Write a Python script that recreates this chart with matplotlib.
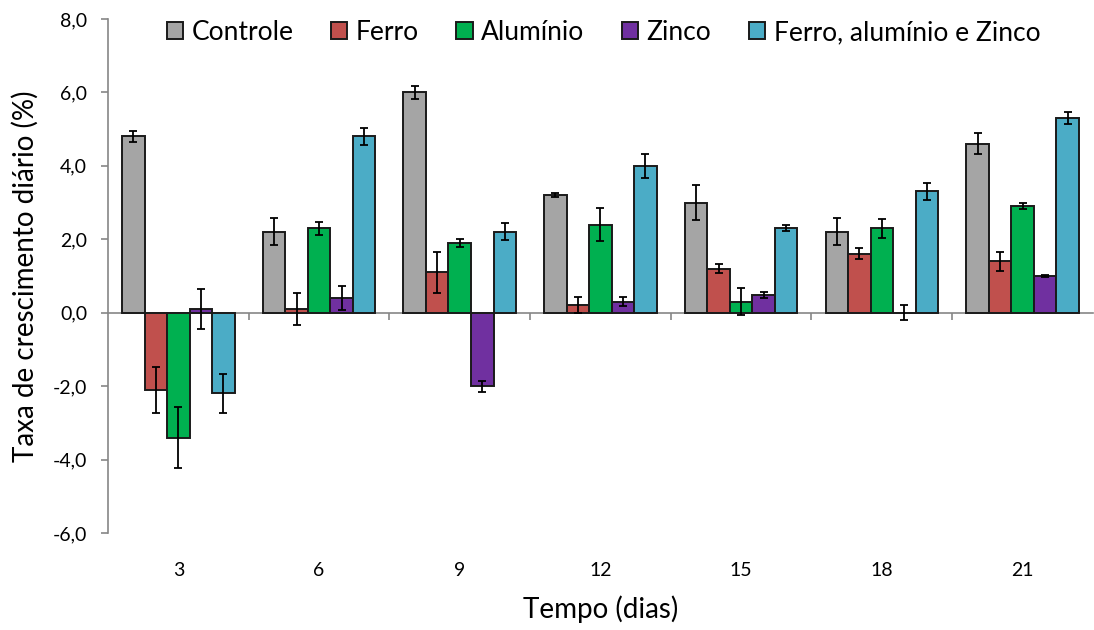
import numpy as np
import matplotlib
matplotlib.use("Agg")
import matplotlib.pyplot as plt
from matplotlib.ticker import FuncFormatter

plt.rcParams['font.family'] = ['Lato', 'DejaVu Sans']

days = ["3", "6", "9", "12", "15", "18", "21"]
series_names = ["Controle", "Ferro", "Alumínio", "Zinco", "Ferro, alumínio e Zinco"]

controle = [4.8, 2.2, 6.0, 3.2, 3.0, 2.2, 4.6]
ferro = [-2.1, 0.1, 1.1, 0.2, 1.2, 1.6, 1.4]
aluminio = [-3.4, 2.3, 1.9, 2.4, 0.3, 2.3, 2.9]
zinco = [0.1, 0.4, -2.0, 0.3, 0.48, 0.0, 1.0]
misto = [-2.2, 4.8, 2.2, 4.0, 2.3, 3.3, 5.3]

controle_err = [0.15, 0.37, 0.18, 0.06, 0.48, 0.37, 0.28]
ferro_err = [0.63, 0.43, 0.56, 0.22, 0.13, 0.15, 0.26]
aluminio_err = [0.82, 0.18, 0.10, 0.46, 0.36, 0.26, 0.09]
zinco_err = [0.54, 0.32, 0.15, 0.13, 0.09, 0.20, 0.02]
misto_err = [0.52, 0.24, 0.23, 0.32, 0.08, 0.22, 0.17]

colors = ["#A5A5A5", "#C0504D", "#00B050", "#7030A0", "#4BACC6"]
axis_gray = "#868686"


def main():
    fig = plt.figure(figsize=(10.94, 6.30), dpi=100)
    ax = fig.add_axes([0.0987, 0.154, 0.9003, 0.816])

    values = [controle, ferro, aluminio, zinco, misto]
    errors = [controle_err, ferro_err, aluminio_err, zinco_err, misto_err]
    x = np.arange(len(days))
    width = 0.16

    for i, (vals, errs) in enumerate(zip(values, errors)):
        pos = x + (i - 2) * width
        ax.bar(pos, vals, width, color=colors[i], edgecolor="#1a1a1a",
               linewidth=1.4, label=series_names[i], zorder=2)
        ax.errorbar(pos, vals, yerr=errs, fmt="none", ecolor="black",
                    elinewidth=1.3, capsize=3.2, capthick=1.3, zorder=3)

    ax.set_xlim(-0.5, len(days) - 0.5)
    ax.set_ylim(-6, 8)
    ax.set_yticks(np.arange(-6, 8.1, 2))
    ax.yaxis.set_major_formatter(FuncFormatter(lambda v, p: f"{v:.1f}".replace(".", ",")))

    for side in ["top", "right", "bottom"]:
        ax.spines[side].set_visible(False)
    ax.spines["left"].set_color(axis_gray)
    ax.spines["left"].set_linewidth(1.2)
    ax.tick_params(axis="y", direction="out", length=5, color=axis_gray,
                   width=1.2, labelsize=14, pad=10)

    # category labels sit at the bottom, the axis line runs through zero
    ax.set_xticks(x)
    ax.set_xticklabels(days)
    ax.tick_params(axis="x", length=0, labelsize=14, pad=21)

    zero_axis = ax.secondary_xaxis(6 / 14)
    zero_axis.set_xticks(np.arange(0.5, len(days) - 0.5, 1))
    zero_axis.tick_params(axis="x", direction="out", length=5, color=axis_gray,
                          width=1.2, labelbottom=False)
    zero_axis.spines["bottom"].set_color(axis_gray)
    zero_axis.spines["bottom"].set_linewidth(1.2)

    ax.set_xlabel("Tempo (dias)", fontsize=20, labelpad=12)
    ax.set_ylabel("Taxa de crescimento diário (%)", fontsize=20, labelpad=10)

    ax.legend(loc="upper center", bbox_to_anchor=(0.503, 1.018), ncol=5,
              frameon=False, fontsize=19, handlelength=0.62, handleheight=0.62,
              handletextpad=0.32, columnspacing=1.42, borderaxespad=0)

    fig.savefig("out.png", dpi=100)


if __name__ == "__main__":
    main()
